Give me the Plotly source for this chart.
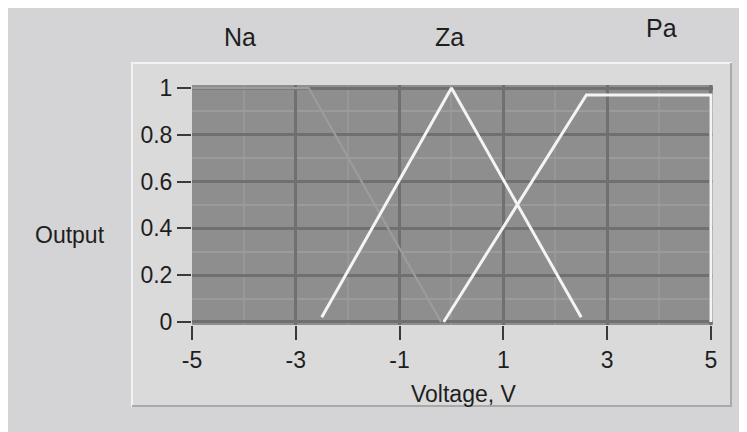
import plotly.graph_objects as go

# ---- data ----
na_x = [-5.0, -2.75, -0.2]
na_y = [1.0, 1.0, 0.0]
za_x = [-2.5, 0.0, 2.5]
za_y = [0.02, 1.0, 0.02]
pa_x = [-0.15, 2.6, 5.0, 5.0]
pa_y = [0.0, 0.97, 0.97, 0.0]
x_ticks = [-5, -3, -1, 1, 3, 5]
y_ticks = [0, 0.2, 0.4, 0.6, 0.8, 1]
y_ticklabels = ["0", "0.2", "0.4", "0.6", "0.8", "1"]
set_names = ["Na", "Za", "Pa"]

FONT = "Liberation Sans, Arial, sans-serif"
TXT = "#1e1e1e"

OFF = 8  # page body margin
W, H = 747 - OFF, 432 - OFF
L, T = 192 - OFF, 85 - OFF
R = W - (713 - OFF)
B = H - (325 - OFF)
pw = W - L - R
ph = H - T - B


def px_x(p):  # page px -> paper x
    return (p - OFF - L) / pw


def px_y(p):  # page px -> paper y
    return (H - B - (p - OFF)) / ph


fig = go.Figure()
fig.add_trace(go.Scatter(x=na_x, y=na_y, mode="lines", line=dict(color="#9c9c9c", width=2.2), showlegend=False))
fig.add_trace(go.Scatter(x=za_x, y=za_y, mode="lines", line=dict(color="#f4f4f4", width=3), showlegend=False))
fig.add_trace(go.Scatter(x=pa_x, y=pa_y, mode="lines", line=dict(color="#f4f4f4", width=3), showlegend=False))

shapes = [
    # inner frame
    dict(type="rect", xref="paper", yref="paper", x0=px_x(132), x1=px_x(731), y0=px_y(63), y1=px_y(406),
         fillcolor="#dadadb", line=dict(color="#f2f2f2", width=2), layer="below"),
    dict(type="line", xref="paper", yref="paper", x0=px_x(132), x1=px_x(732), y0=px_y(406), y1=px_y(406),
         line=dict(color="#a9a9a9", width=2), layer="below"),
    dict(type="line", xref="paper", yref="paper", x0=px_x(731), x1=px_x(731), y0=px_y(63), y1=px_y(407),
         line=dict(color="#a9a9a9", width=2), layer="below"),
    # plot area
    dict(type="rect", xref="paper", yref="paper", x0=0, x1=1, y0=0, y1=1,
         fillcolor="#8e8e8e", line=dict(width=0), layer="below"),
]

annotations = []
label_pos = [(240, 37, 25), (449, 37, 25), (661, 28, 25)]
for name, (lx, ly, fs) in zip(set_names, label_pos):
    annotations.append(dict(text=name, x=px_x(lx), xref="paper", y=px_y(ly), yref="paper", showarrow=False,
                            font=dict(family=FONT, size=fs, color=TXT), xanchor="center", yanchor="middle"))
annotations.append(dict(text="Output", x=px_x(70), xref="paper", y=px_y(235), yref="paper", showarrow=False,
                        font=dict(family=FONT, size=23, color=TXT), xanchor="center", yanchor="middle"))
annotations.append(dict(text="Voltage, V", x=px_x(464), xref="paper", y=px_y(394), yref="paper", showarrow=False,
                        font=dict(family=FONT, size=23, color=TXT), xanchor="center", yanchor="middle"))

fig.update_layout(
    width=W, height=H,
    margin=dict(l=L, r=R, t=T, b=B, pad=0),
    paper_bgcolor="#d4d4d6",
    plot_bgcolor="rgba(0,0,0,0)",
    shapes=shapes,
    annotations=annotations,
    font=dict(family=FONT, size=23, color=TXT),
)

fig.update_xaxes(
    range=[-5.0, 5.04], tickmode="array", tickvals=x_ticks, ticktext=[str(v) for v in x_ticks],
    ticks="outside", ticklen=14, tickwidth=2, tickcolor="#3a3a3a",
    showgrid=True, gridcolor="#707070", gridwidth=3,
    minor=dict(dtick=1, tick0=0, showgrid=True, gridcolor="#979797", gridwidth=2, ticks=""),
    zeroline=False, showline=False, tickfont=dict(size=23, color=TXT),
)
fig.update_yaxes(
    range=[-0.013, 1.013], tickmode="array", tickvals=y_ticks, ticktext=y_ticklabels,
    ticks="outside", ticklen=14, tickwidth=2, tickcolor="#3a3a3a",
    showgrid=True, gridcolor="#707070", gridwidth=3,
    minor=dict(dtick=0.1, tick0=0, showgrid=True, gridcolor="#9b9b9b", gridwidth=2, ticks=""),
    zeroline=False, showline=False, tickfont=dict(size=23, color=TXT),
)

fig.write_html("out.html")
